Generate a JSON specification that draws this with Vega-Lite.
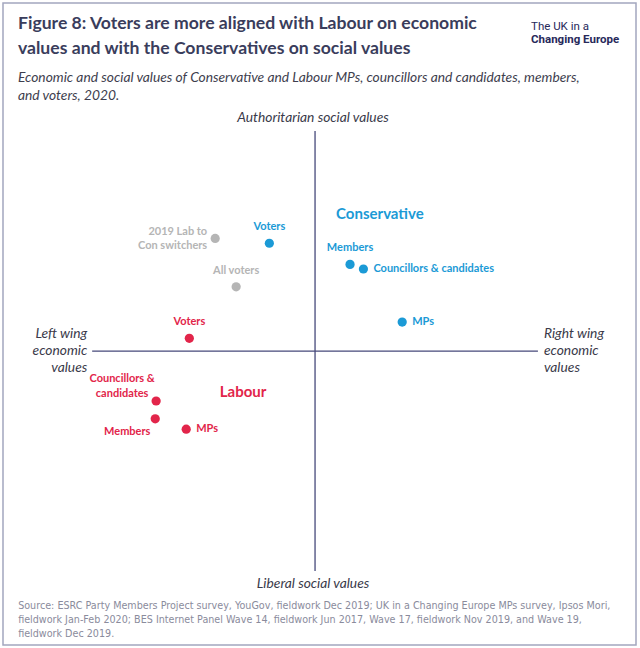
{
  "$schema": "https://vega.github.io/schema/vega-lite/v6.json",
  "width": 633,
  "height": 642,
  "autosize": "none",
  "padding": {"left": 3, "top": 3, "right": 4, "bottom": 3},
  "background": "white",
  "title": {
    "text": ["Figure 8: Voters are more aligned with Labour on economic", "values and with the Conservatives on social values"],
    "subtitle": ["Economic and social values of Conservative and Labour MPs, councillors and candidates, members,", "and voters, 2020."],
    "anchor": "start",
    "frame": "group",
    "orient": "top",
    "offset": -100,
    "dx": 15,
    "font": "Lato",
    "fontSize": 17.6,
    "fontWeight": "bold",
    "color": "#3a3d5c",
    "lineHeight": 25,
    "subtitleFont": "Lato",
    "subtitleFontSize": 13.8,
    "subtitleFontStyle": "italic",
    "subtitleColor": "#3e3e4e",
    "subtitleLineHeight": 18,
    "subtitlePadding": 14
  },
  "config": {
    "view": {"stroke": "#a3a7bf", "strokeWidth": 1.5},
    "text": {"font": "Lato"}
  },
  "datasets": {
    "points": [
      {"group": "Conservative", "label": "Voters", "x": -2.05, "y": 4.9, "pos": "above"},
      {"group": "Conservative", "label": "Members", "x": 1.57, "y": 3.94, "pos": "above"},
      {"group": "Conservative", "label": "Councillors & candidates", "x": 2.17, "y": 3.73, "pos": "right"},
      {"group": "Conservative", "label": "MPs", "x": 3.91, "y": 1.32, "pos": "right"},
      {"group": "All", "label": "All voters", "x": -3.54, "y": 2.92, "pos": "above"},
      {"group": "All", "label": "2019 Lab to\nCon switchers", "x": -4.48, "y": 5.12, "pos": "left"},
      {"group": "Labour", "label": "Voters", "x": -5.64, "y": 0.58, "pos": "above"},
      {"group": "Labour", "label": "Councillors &\ncandidates", "x": -7.13, "y": -2.27, "pos": "upleft"},
      {"group": "Labour", "label": "Members", "x": -7.17, "y": -3.08, "pos": "downleft"},
      {"group": "Labour", "label": "MPs", "x": -5.78, "y": -3.55, "pos": "right"}
    ],
    "axes": [
      {"x": 0, "x2": 0, "y": -10, "y2": 10},
      {"x": -10, "x2": 10, "y": 0, "y2": 0}
    ],
    "notes": [
      {"kind": "party", "group": "Conservative", "text": "Conservative", "x": 2.91, "y": 6.23},
      {"kind": "party", "group": "Labour", "text": "Labour", "x": -3.23, "y": -1.86},
      {"kind": "axis", "text": "Authoritarian social values", "x": -0.09, "y": 10.59},
      {"kind": "axis", "text": "Liberal social values", "x": -0.09, "y": -10.59},
      {"kind": "axisleft", "text": "Left wing\neconomic\nvalues", "x": -10.22, "y": 0.0},
      {"kind": "axisright", "text": "Right wing\neconomic\nvalues", "x": 10.27, "y": 0.0},
      {"kind": "source", "text": "Source: ESRC Party Members Project survey, YouGov, fieldwork Dec 2019; UK in a Changing Europe MPs survey, Ipsos Mori,\nfieldwork Jan-Feb 2020; BES Internet Panel Wave 14, fieldwork Jun 2017, Wave 17, fieldwork Nov 2019, and Wave 19,\nfieldwork Dec 2019.", "x": -13.32, "y": -11.59},
      {"kind": "logo1", "text": "The UK in a", "x": 9.69, "y": 14.73},
      {"kind": "logo2", "text": "Changing Europe", "x": 9.69, "y": 14.14}
    ]
  },
  "encoding": {
    "x": {"field": "x", "type": "quantitative", "scale": {"domain": [-14, 14.4], "nice": false, "zero": false}, "axis": null},
    "y": {"field": "y", "type": "quantitative", "scale": {"domain": [-13.36, 15.82], "nice": false, "zero": false}, "axis": null}
  },
  "layer": [
    {
      "data": {"name": "axes"},
      "mark": {"type": "rule", "color": "#46497a", "strokeWidth": 1.3},
      "encoding": {
        "x2": {"field": "x2"},
        "y2": {"field": "y2"}
      }
    },
    {
      "data": {"name": "points"},
      "mark": {"type": "circle", "size": 85, "opacity": 1},
      "encoding": {
        "color": {
          "field": "group", "type": "nominal", "legend": null,
          "scale": {"domain": ["Conservative", "Labour", "All"], "range": ["#1b9ad6", "#e2254a", "#b5b5b5"]}
        }
      }
    },
    {
      "data": {"name": "points"},
      "transform": [{"filter": "datum.pos === 'above'"}],
      "mark": {"type": "text", "align": "center", "baseline": "middle", "dy": -16, "fontSize": 11, "fontWeight": "bold"},
      "encoding": {
        "text": {"field": "label"},
        "color": {"field": "group", "type": "nominal", "legend": null}
      }
    },
    {
      "data": {"name": "points"},
      "transform": [{"filter": "datum.pos === 'right'"}],
      "mark": {"type": "text", "align": "left", "baseline": "middle", "dx": 10, "fontSize": 11, "fontWeight": "bold"},
      "encoding": {
        "text": {"field": "label"},
        "color": {"field": "group", "type": "nominal", "legend": null}
      }
    },
    {
      "data": {"name": "points"},
      "transform": [{"filter": "datum.pos === 'left'"}],
      "mark": {"type": "text", "align": "right", "baseline": "middle", "dx": -8, "dy": -6, "lineBreak": "\n", "lineHeight": 14, "fontSize": 11, "fontWeight": "bold"},
      "encoding": {
        "text": {"field": "label"},
        "color": {"field": "group", "type": "nominal", "legend": null}
      }
    },
    {
      "data": {"name": "points"},
      "transform": [{"filter": "datum.pos === 'upleft'"}],
      "mark": {"type": "text", "align": "center", "baseline": "middle", "dx": -34, "dy": -22, "lineBreak": "\n", "lineHeight": 15, "fontSize": 11, "fontWeight": "bold"},
      "encoding": {
        "text": {"field": "label"},
        "color": {"field": "group", "type": "nominal", "legend": null}
      }
    },
    {
      "data": {"name": "points"},
      "transform": [{"filter": "datum.pos === 'downleft'"}],
      "mark": {"type": "text", "align": "center", "baseline": "middle", "dx": -28, "dy": 13, "fontSize": 11, "fontWeight": "bold"},
      "encoding": {
        "text": {"field": "label"},
        "color": {"field": "group", "type": "nominal", "legend": null}
      }
    },
    {
      "data": {"name": "notes"},
      "transform": [{"filter": "datum.kind === 'party'"}],
      "mark": {"type": "text", "align": "center", "baseline": "middle", "fontSize": 15, "fontWeight": "bold"},
      "encoding": {
        "text": {"field": "text"},
        "color": {"field": "group", "type": "nominal", "legend": null}
      }
    },
    {
      "data": {"name": "notes"},
      "transform": [{"filter": "datum.kind === 'axis'"}],
      "mark": {"type": "text", "align": "center", "baseline": "middle", "fontSize": 13.8, "fontStyle": "italic", "color": "#3a3a4a"},
      "encoding": {"text": {"field": "text"}}
    },
    {
      "data": {"name": "notes"},
      "transform": [{"filter": "datum.kind === 'axisleft'"}],
      "mark": {"type": "text", "align": "right", "baseline": "middle", "dy": -17, "lineBreak": "\n", "lineHeight": 17, "fontSize": 13.8, "fontStyle": "italic", "color": "#3a3a4a"},
      "encoding": {"text": {"field": "text"}}
    },
    {
      "data": {"name": "notes"},
      "transform": [{"filter": "datum.kind === 'axisright'"}],
      "mark": {"type": "text", "align": "left", "baseline": "middle", "dy": -17, "lineBreak": "\n", "lineHeight": 17, "fontSize": 13.8, "fontStyle": "italic", "color": "#3a3a4a"},
      "encoding": {"text": {"field": "text"}}
    },
    {
      "data": {"name": "notes"},
      "transform": [{"filter": "datum.kind === 'source'"}],
      "mark": {"type": "text", "align": "left", "baseline": "middle", "lineBreak": "\n", "lineHeight": 14, "font": "DejaVu Sans", "fontSize": 9.6, "color": "#8a8b9c"},
      "encoding": {"text": {"field": "text"}}
    },
    {
      "data": {"name": "notes"},
      "transform": [{"filter": "datum.kind === 'logo1'"}],
      "mark": {"type": "text", "align": "left", "baseline": "middle", "font": "Roboto", "fontSize": 11.5, "color": "#27295a"},
      "encoding": {"text": {"field": "text"}}
    },
    {
      "data": {"name": "notes"},
      "transform": [{"filter": "datum.kind === 'logo2'"}],
      "mark": {"type": "text", "align": "left", "baseline": "middle", "font": "Roboto", "fontSize": 11.5, "fontWeight": "bold", "color": "#27295a"},
      "encoding": {"text": {"field": "text"}}
    }
  ]
}
